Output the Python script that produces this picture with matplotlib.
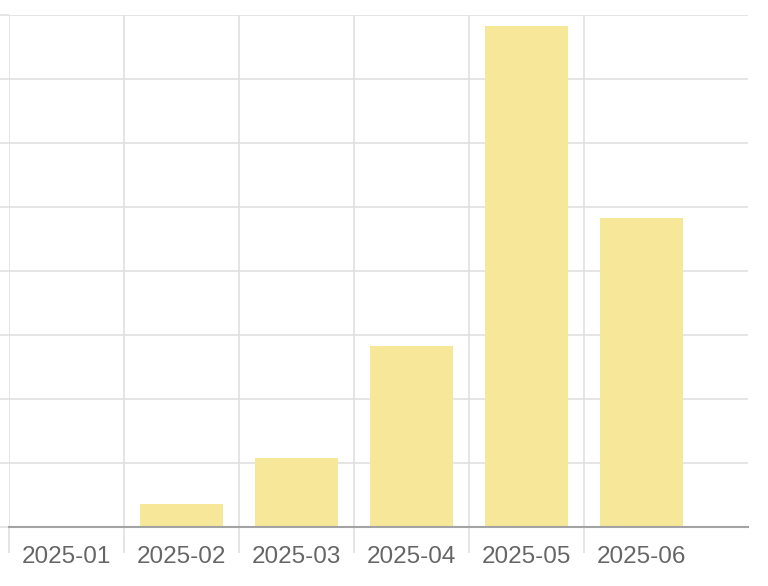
import numpy as np
import matplotlib
matplotlib.use("Agg")
import matplotlib.pyplot as plt

# data (in grid-step units)
months = ["2025-01", "2025-02", "2025-03", "2025-04", "2025-05", "2025-06"]
values = [0.0, 0.36, 1.08, 2.83, 7.83, 4.83]

bar_color = "#f6e799"
grid_color = "#e0e0e0"

fig = plt.figure(figsize=(7.68, 5.86), dpi=100)
ax = fig.add_axes([9/768, 59/586, 739/768, 512/586])

x = np.arange(len(months))
ax.bar(x, values, width=0.72, color=bar_color, zorder=2)

ax.set_xlim(-0.5, 5.5 + 49/115)
ax.set_ylim(0, 8)

# grid
ax.set_yticks(np.arange(0, 9, 1))
ax.set_yticklabels([])
ax.tick_params(axis="y", length=9, color=grid_color, width=1.2)
ax.yaxis.grid(True, color=grid_color, linewidth=1.2, zorder=0)

ax.set_xticks(x)
ax.set_xticklabels(months, fontsize=17.5, color="#666666", family="Liberation Sans")
ax.tick_params(axis="x", which="major", length=0, pad=14)
ax.set_xticks(np.arange(-0.5, 5, 1), minor=True)
ax.tick_params(axis="x", which="minor", length=19, color=grid_color, width=1.2)
ax.xaxis.grid(True, which="minor", color=grid_color, linewidth=1.2, zorder=0)

for s in ["top", "right", "left"]:
    ax.spines[s].set_visible(False)
ax.spines["bottom"].set_color("#a3a3a3")
ax.spines["bottom"].set_linewidth(1.5)
ax.spines["bottom"].set_zorder(3)

fig.savefig("out.png", dpi=100)
